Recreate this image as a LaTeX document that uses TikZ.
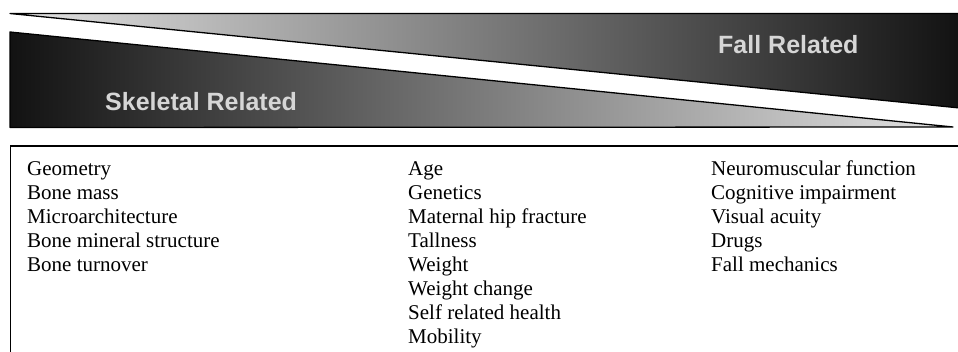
\documentclass[tikz,border=0pt]{standalone}
\usepackage{fontspec}
\setmainfont{Liberation Serif}
\newfontfamily\bandfont{Liberation Sans}
\usepackage{tikz}
\usetikzlibrary{positioning}
\definecolor{bandlight}{RGB}{228,228,228}
\definecolor{bandmid}{RGB}{118,118,118}
\definecolor{banddark}{RGB}{18,18,18}
\definecolor{bandtext}{RGB}{214,214,214}

\begin{document}
\begin{tikzpicture}[x=1pt, y=-1pt,
    band/.style={draw=black, line width=1.3pt, line join=round},
    bandlabel/.style={anchor=base west, inner sep=0pt, text=bandtext,
      font=\bandfont\bfseries\fontsize{25}{30}\selectfont},
    item/.style={anchor=base west, inner sep=0pt,
      font=\fontsize{21}{24}\selectfont}]
  \useasboundingbox (0,0) rectangle (958,351);
  \shade[band, left color=bandlight, middle color=bandmid, right color=banddark]
    (10,13.5) -- (960,13.5) -- (960,108) -- cycle;
  \shade[band, left color=banddark, middle color=bandmid, right color=bandlight]
    (10,32) -- (953,127) -- (10,127.5) -- cycle;
  \node[bandlabel] (fall) at (718,53) {Fall Related};
  \node[bandlabel] (skeletal) at (105,110) {Skeletal Related};
  \draw[line width=1.2pt] (960,146) -- (10.5,146) -- (10.5,353);
  \foreach \txt [count=\i] in {Geometry, Bone mass, Microarchitecture,
      Bone mineral structure, Bone turnover}
    \node[item] (skel\i) at (27,{151+24*\i}) {\txt};
  \foreach \txt [count=\i] in {Age, Genetics, Maternal hip fracture,
      Tallness, Weight, Weight change, Self related health, Mobility}
    \node[item] (gen\i) at (408,{151+24*\i}) {\txt};
  \foreach \txt [count=\i] in {Neuromuscular function, Cognitive impairment,
      Visual acuity, Drugs, Fall mechanics}
    \node[item] (fall\i) at (711,{151+24*\i}) {\txt};
\end{tikzpicture}
\end{document}
